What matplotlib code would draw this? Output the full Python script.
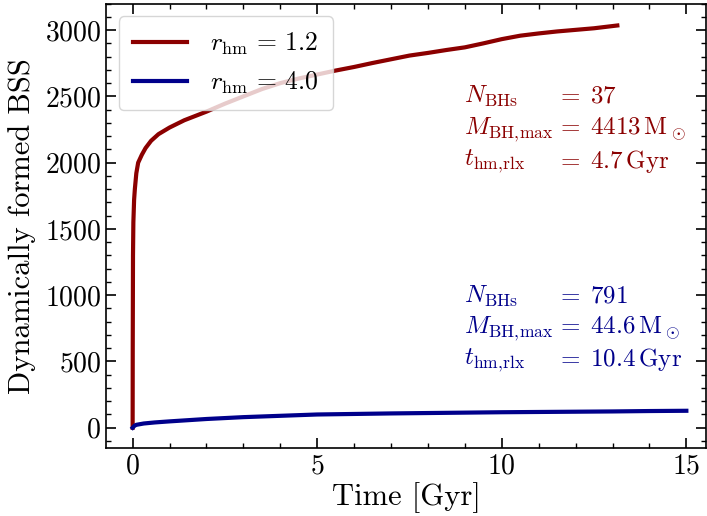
import matplotlib
matplotlib.use("Agg")
import matplotlib.pyplot as plt
from matplotlib.ticker import MultipleLocator

plt.rcParams['font.family'] = 'serif'
plt.rcParams['font.serif'] = ['cmr10']
plt.rcParams['mathtext.fontset'] = 'cm'
plt.rcParams['axes.formatter.use_mathtext'] = True

# r_hm = 1.2 cluster
t_dense = [0, 0.003, 0.01, 0.02, 0.04, 0.06, 0.1, 0.15, 0.25, 0.35, 0.5, 0.7,
           1.0, 1.4, 2.0, 2.5, 3.0, 3.5, 4.0, 4.5, 5.0, 5.5, 6.0, 6.5, 7.0,
           7.5, 8.0, 8.5, 9.0, 9.5, 10.0, 10.5, 11.0, 11.5, 12.0, 12.5, 13.13]
bss_dense = [0, 600, 1300, 1550, 1720, 1800, 1920, 2000, 2060, 2110, 2165, 2215,
             2265, 2320, 2385, 2445, 2500, 2555, 2600, 2635, 2665, 2695, 2722, 2752, 2780,
             2808, 2828, 2850, 2870, 2900, 2932, 2958, 2975, 2990, 3002, 3014, 3035]

# r_hm = 4.0 cluster
t_loose = [0, 0.05, 0.1, 0.3, 0.6, 1.0, 2.0, 3.0, 4.0, 5.0, 6.0, 7.0,
           8.0, 9.0, 10.0, 11.0, 12.0, 13.0, 14.0, 15.0]
bss_loose = [0, 15, 22, 32, 40, 48, 66, 80, 90, 100, 104, 108,
             111, 114, 117, 119, 121, 123, 126, 128]

labels = [r'$r_{\rm hm} \,=\, 1.2$', r'$r_{\rm hm} \,=\, 4.0$']
info_names = [r'$N_{\rm BHs}$', r'$M_{\mathrm{BH,\!max}}$', r'$t_{\mathrm{hm,\!rlx}}$']
info_dense = [r'$=\;37$', r'$=\;4413\,\mathrm{M}_\odot$', r'$=\;4.7\,\mathrm{Gyr}$']
info_loose = [r'$=\;791$', r'$=\;44.6\,\mathrm{M}_\odot$', r'$=\;10.4\,\mathrm{Gyr}$']

red = '#8b0000'
blue = '#00008b'

fig = plt.figure(figsize=(7.07, 5.16), dpi=100)
ax = fig.add_axes([0.15, 0.132, 0.849, 0.861])

ax.plot(t_dense, bss_dense, color=red, lw=3, label=labels[0])
ax.plot(t_loose, bss_loose, color=blue, lw=3, label=labels[1])

ax.set_xlim(-0.72, 15.54)
ax.set_ylim(-152, 3200)
ax.xaxis.set_major_locator(MultipleLocator(5))
ax.xaxis.set_minor_locator(MultipleLocator(1))
ax.yaxis.set_major_locator(MultipleLocator(500))
ax.yaxis.set_minor_locator(MultipleLocator(100))
ax.tick_params(which='both', direction='in', top=True, right=True, labelsize=20)
ax.tick_params(which='major', length=7, width=1.2)
ax.tick_params(which='minor', length=3.5, width=1)
for s in ax.spines.values():
    s.set_linewidth(1.2)

ax.set_xlabel('Time [Gyr]', fontsize=22, labelpad=2)
ax.set_ylabel('Dynamically formed BSS', fontsize=22, labelpad=6)

ys_red = [2502, 2252, 2010]
ys_blue = [990, 748, 514]
for i in range(3):
    ax.text(8.98, ys_red[i], info_names[i], color=red, fontsize=18, va='center')
    ax.text(11.47, ys_red[i], info_dense[i], color=red, fontsize=18, va='center')
    ax.text(8.98, ys_blue[i], info_names[i], color=blue, fontsize=18, va='center')
    ax.text(11.47, ys_blue[i], info_loose[i], color=blue, fontsize=18, va='center')

ax.legend(loc='upper left', fontsize=18.5, handlelength=2.1, borderpad=0.55,
          labelspacing=0.5, handletextpad=0.9)

fig.savefig('out.png', dpi=100)
